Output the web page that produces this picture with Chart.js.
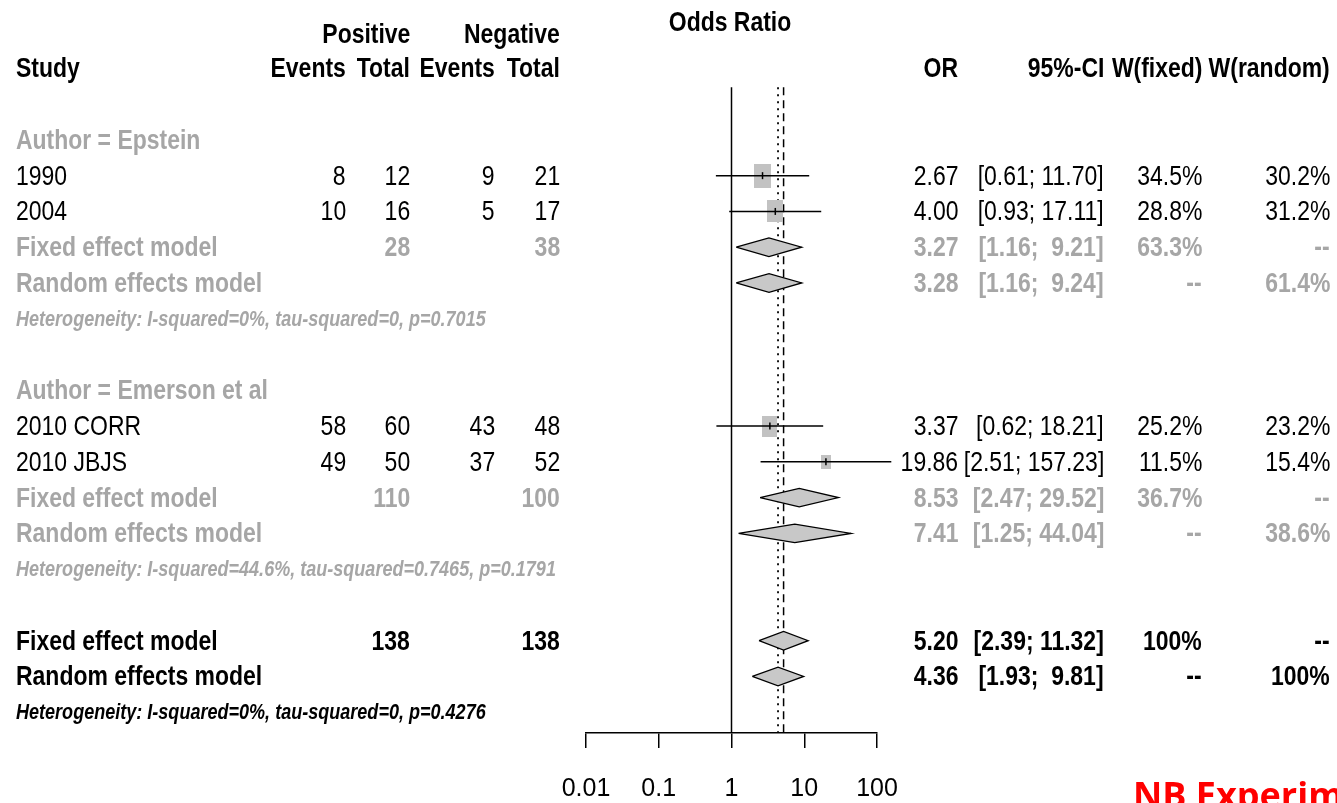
<!DOCTYPE html>
<html>
<head>
<meta charset="utf-8">
<script src="https://cdn.jsdelivr.net/npm/chart.js@4/dist/chart.umd.min.js"></script>
<style>
    html, body { margin: 0; padding: 0; background: #fff; }
    #wrap { position: relative; width: 1337px; height: 803px; overflow: hidden; background: #fff; }
    #forest { position: absolute; left: 0; top: 0; }
    #overlay { position: absolute; left: 0; top: 0; width: 1337px; height: 803px; pointer-events: none; }
    .cell { position: absolute; white-space: pre; color: #000; }
    .note { position: absolute; left: 1133px; top: 777px; font-family: "Open Sans", sans-serif;
            font-weight: 700; font-size: 36px; line-height: 36px; color: #ff0000; white-space: pre; }
</style>
</head>
<body>
<div id="wrap">
    <canvas id="forest" width="1337" height="803"></canvas>
    <div id="overlay"></div>
    <div class="note">NB Experimental</div>
</div>
<script>
/**
 * Forest plot - odds ratios, subgroups by author
 */

// Etudes individuelles
const STUDY_LABELS = ['1990', '2004', '2010 CORR', '2010 JBJS'];
const STUDY_GROUP = [0, 0, 1, 1];
const POS_EVENTS = [8, 10, 58, 49];
const POS_TOTAL = [12, 16, 60, 50];
const NEG_EVENTS = [9, 5, 43, 37];
const NEG_TOTAL = [21, 17, 48, 52];
const STUDY_OR = [2.67, 4.00, 3.37, 19.86];
const STUDY_LOWER = [0.61, 0.93, 0.62, 2.51];
const STUDY_UPPER = [11.70, 17.11, 18.21, 157.23];
const STUDY_W_FIXED = [34.5, 28.8, 25.2, 11.5];
const STUDY_W_RANDOM = [30.2, 31.2, 23.2, 15.4];

// Sous-groupes
const GROUP_LABELS = ['Author = Epstein', 'Author = Emerson et al'];
const GROUP_POS_TOTAL = [28, 110];
const GROUP_NEG_TOTAL = [38, 100];
const GROUP_FIXED_OR = [3.27, 8.53];
const GROUP_FIXED_LOWER = [1.16, 2.47];
const GROUP_FIXED_UPPER = [9.21, 29.52];
const GROUP_FIXED_W = [63.3, 36.7];
const GROUP_RANDOM_OR = [3.28, 7.41];
const GROUP_RANDOM_LOWER = [1.16, 1.25];
const GROUP_RANDOM_UPPER = [9.24, 44.04];
const GROUP_RANDOM_W = [61.4, 38.6];
const GROUP_HET = [
    'Heterogeneity: I-squared=0%, tau-squared=0, p=0.7015',
    'Heterogeneity: I-squared=44.6%, tau-squared=0.7465, p=0.1791'
];

// Modeles globaux
const OVERALL_POS_TOTAL = 138;
const OVERALL_NEG_TOTAL = 138;
const OVERALL_FIXED = [5.20, 2.39, 11.32];
const OVERALL_RANDOM = [4.36, 1.93, 9.81];
const OVERALL_HET = 'Heterogeneity: I-squared=0%, tau-squared=0, p=0.4276';

// Axe
const TICK_VALUES = [0.01, 0.1, 1, 10, 100];
const AXIS_TITLE = 'Odds Ratio';

/**
 * Police etroite si disponible, sinon compression horizontale
 */
function hasFont(name) {
    const ctx = document.createElement('canvas').getContext('2d');
    ctx.font = '40px monospace';
    const a = ctx.measureText('Random effects model 0123').width;
    ctx.font = '40px "' + name + '", monospace';
    const b = ctx.measureText('Random effects model 0123').width;
    return a !== b;
}
const NARROW = hasFont('Liberation Sans Narrow');
const FONT = NARROW ? '"Liberation Sans Narrow"' : '"Liberation Sans", Arial, sans-serif';
const SQUEEZE = NARROW ? 1 : 0.82;

const GREY = '#a6a6a6';
const BOX = '#c2c2c2';
const TEXT_SIZE = 28;
const HET_SIZE = 22;
const TICK_SIZE = NARROW ? 28 : 25;

const COL = {
    study: 16, posEv: 346, posTot: 410, negEv: 495, negTot: 560,
    or: 958, ci: 1104, wf: 1202, wr: 1330
};

// Numeros de ligne
const ROWS = { title: -1.3, top: -0.95, head: 0 };

function fmt2(v) { return v.toFixed(2); }
function ciText(lo, hi) { return '[' + fmt2(lo) + '; ' + fmt2(hi).padStart(5) + ']'; }
function pct(v) { return (v === 100 ? '100' : v.toFixed(1)) + '%'; }

/**
 * Construction de la liste des lignes du tableau
 */
const studyRows = [];
const fixedRows = [];
const randomRows = [];
const table = [];
let r = 2;
GROUP_LABELS.forEach(function (label, g) {
    table.push({ row: r++, kind: 'group', g: g });
    STUDY_LABELS.forEach(function (s, i) {
        if (STUDY_GROUP[i] !== g) return;
        studyRows[i] = r;
        table.push({ row: r++, kind: 'study', i: i });
    });
    fixedRows.push(r);
    table.push({ row: r++, kind: 'gfixed', g: g });
    randomRows.push(r);
    table.push({ row: r++, kind: 'grandom', g: g });
    table.push({ row: r++, kind: 'ghet', g: g });
    r++;
});
const overallFixedRow = r++;
const overallRandomRow = r++;
const overallHetRow = r++;

/**
 * Jeux de donnees Chart.js
 */
const DIAMOND_HALF = 0.26;
const REF_TOP = 0.53;
const Y_MIN = -1.743;
const Y_MAX = 18.58;

function boxImage(w) {
    const f = Math.sqrt(w / STUDY_W_FIXED[0]);
    const c = document.createElement('canvas');
    c.width = Math.max(2, Math.round(17 * f));
    c.height = Math.max(2, Math.round(24 * f));
    const g = c.getContext('2d');
    g.fillStyle = BOX;
    g.fillRect(0, 0, c.width, c.height);
    return c;
}

function diamond(est, lo, hi, row) {
    return {
        type: 'scatter',
        data: [
            { x: lo, y: row }, { x: est, y: row - DIAMOND_HALF },
            { x: hi, y: row }, { x: est, y: row + DIAMOND_HALF }, { x: lo, y: row }
        ],
        showLine: true,
        fill: 'shape',
        backgroundColor: '#c8c8c8',
        borderColor: '#000',
        borderWidth: 1.3,
        pointRadius: 0,
        tension: 0,
        clip: false,
        order: 3
    };
}

function refLine(x, dash, width) {
    return {
        type: 'scatter',
        data: [{ x: x, y: REF_TOP }, { x: x, y: Y_MAX }],
        showLine: true,
        borderColor: '#000',
        borderWidth: width,
        borderDash: dash,
        pointRadius: 0,
        clip: false,
        order: 6
    };
}

const datasets = [];
datasets.push(refLine(1, [], 1.5));
datasets.push(refLine(OVERALL_FIXED[0], [8, 5], 1.5));
datasets.push(refLine(OVERALL_RANDOM[0], [2, 5], 1.8));

// Carres ponderes
datasets.push({
    type: 'scatter',
    data: STUDY_OR.map(function (v, i) { return { x: v, y: studyRows[i] }; }),
    pointStyle: STUDY_W_FIXED.map(boxImage),
    pointRadius: 5,
    clip: false,
    order: 5
});

// Intervalles de confiance
STUDY_OR.forEach(function (v, i) {
    datasets.push({
        type: 'scatter',
        data: [{ x: STUDY_LOWER[i], y: studyRows[i] }, { x: STUDY_UPPER[i], y: studyRows[i] }],
        showLine: true,
        borderColor: '#000',
        borderWidth: 1.5,
        pointRadius: 0,
        clip: false,
        order: 2
    });
});

// Petit trait a l'estimation
datasets.push({
    type: 'scatter',
    data: STUDY_OR.map(function (v, i) { return { x: v, y: studyRows[i] }; }),
    pointStyle: 'line',
    rotation: 90,
    pointRadius: 3.5,
    borderColor: '#000',
    borderWidth: 1.5,
    clip: false,
    order: 1
});

// Losanges
GROUP_LABELS.forEach(function (label, g) {
    datasets.push(diamond(GROUP_FIXED_OR[g], GROUP_FIXED_LOWER[g], GROUP_FIXED_UPPER[g], fixedRows[g]));
    datasets.push(diamond(GROUP_RANDOM_OR[g], GROUP_RANDOM_LOWER[g], GROUP_RANDOM_UPPER[g], randomRows[g]));
});
datasets.push(diamond(OVERALL_FIXED[0], OVERALL_FIXED[1], OVERALL_FIXED[2], overallFixedRow));
datasets.push(diamond(OVERALL_RANDOM[0], OVERALL_RANDOM[1], OVERALL_RANDOM[2], overallRandomRow));

Chart.defaults.font.family = FONT;
Chart.defaults.color = '#000';

const chart = new Chart(document.getElementById('forest'), {
    type: 'scatter',
    data: { datasets: datasets },
    options: {
        responsive: false,
        animation: false,
        events: [],
        layout: { padding: { left: 586, right: 460, top: 0, bottom: 0 } },
        plugins: {
            legend: { display: false },
            tooltip: { enabled: false }
        },
        scales: {
            x: {
                type: 'logarithmic',
                position: 'bottom',
                min: TICK_VALUES[0],
                max: TICK_VALUES[TICK_VALUES.length - 1],
                afterBuildTicks: function (scale) {
                    scale.ticks = TICK_VALUES.map(function (v) { return { value: v }; });
                },
                afterFit: function (scale) { scale.height = 70; },
                grid: {
                    display: true,
                    drawOnChartArea: false,
                    drawTicks: true,
                    tickLength: 15,
                    color: '#000',
                    lineWidth: 1.5
                },
                border: { display: true, color: '#000', width: 1.5 },
                ticks: {
                    autoSkip: false,
                    maxRotation: 0,
                    padding: 26,
                    color: '#000',
                    font: { size: TICK_SIZE },
                    callback: function (v) { return String(v); }
                }
            },
            y: {
                type: 'linear',
                reverse: true,
                min: Y_MIN,
                max: Y_MAX,
                display: false
            }
        }
    }
});

/**
 * Texte du tableau en HTML, place d'apres l'echelle y du graphique
 */
const overlay = document.getElementById('overlay');
const yScale = chart.scales.y;

function addText(str, row, x, align, opts) {
    opts = opts || {};
    const size = opts.size || TEXT_SIZE;
    const d = document.createElement('div');
    d.className = 'cell';
    d.textContent = str;
    d.style.fontFamily = FONT;
    d.style.fontSize = size + 'px';
    d.style.lineHeight = size + 'px';
    d.style.fontWeight = opts.bold ? '700' : '400';
    d.style.fontStyle = opts.italic ? 'italic' : 'normal';
    d.style.color = opts.color || '#000';
    d.style.top = (yScale.getPixelForValue(row) - size / 2) + 'px';
    if (align === 'left') {
        d.style.left = x + 'px';
        d.style.transformOrigin = 'left center';
        d.style.transform = 'scaleX(' + SQUEEZE + ')';
    } else if (align === 'right') {
        d.style.right = (1337 - x) + 'px';
        d.style.transformOrigin = 'right center';
        d.style.transform = 'scaleX(' + SQUEEZE + ')';
    } else {
        d.style.left = x + 'px';
        d.style.transform = 'translateX(-50%) scaleX(' + SQUEEZE + ')';
    }
    overlay.appendChild(d);
}

const xScale = chart.scales.x;
const B = { bold: true };
addText(AXIS_TITLE, ROWS.title, xScale.getPixelForValue(1) - 2, 'center', B);
addText('Positive', ROWS.top, COL.posTot, 'right', B);
addText('Negative', ROWS.top, COL.negTot, 'right', B);
addText('Study', ROWS.head, COL.study, 'left', B);
addText('Events', ROWS.head, COL.posEv, 'right', B);
addText('Total', ROWS.head, COL.posTot, 'right', B);
addText('Events', ROWS.head, COL.negEv, 'right', B);
addText('Total', ROWS.head, COL.negTot, 'right', B);
addText('OR', ROWS.head, COL.or, 'right', B);
addText('95%-CI', ROWS.head, COL.ci, 'right', B);
addText('W(fixed)', ROWS.head, COL.wf, 'right', B);
addText('W(random)', ROWS.head, COL.wr, 'right', B);

const G = { color: GREY, bold: true };
table.forEach(function (t) {
    if (t.kind === 'group') {
        addText(GROUP_LABELS[t.g], t.row, COL.study, 'left', G);
    } else if (t.kind === 'study') {
        const i = t.i;
        addText(STUDY_LABELS[i], t.row, COL.study, 'left');
        addText(String(POS_EVENTS[i]), t.row, COL.posEv, 'right');
        addText(String(POS_TOTAL[i]), t.row, COL.posTot, 'right');
        addText(String(NEG_EVENTS[i]), t.row, COL.negEv, 'right');
        addText(String(NEG_TOTAL[i]), t.row, COL.negTot, 'right');
        addText(fmt2(STUDY_OR[i]), t.row, COL.or, 'right');
        addText(ciText(STUDY_LOWER[i], STUDY_UPPER[i]), t.row, COL.ci, 'right');
        addText(pct(STUDY_W_FIXED[i]), t.row, COL.wf, 'right');
        addText(pct(STUDY_W_RANDOM[i]), t.row, COL.wr, 'right');
    } else if (t.kind === 'gfixed') {
        const g = t.g;
        addText('Fixed effect model', t.row, COL.study, 'left', G);
        addText(String(GROUP_POS_TOTAL[g]), t.row, COL.posTot, 'right', G);
        addText(String(GROUP_NEG_TOTAL[g]), t.row, COL.negTot, 'right', G);
        addText(fmt2(GROUP_FIXED_OR[g]), t.row, COL.or, 'right', G);
        addText(ciText(GROUP_FIXED_LOWER[g], GROUP_FIXED_UPPER[g]), t.row, COL.ci, 'right', G);
        addText(pct(GROUP_FIXED_W[g]), t.row, COL.wf, 'right', G);
        addText('--', t.row, COL.wr, 'right', G);
    } else if (t.kind === 'grandom') {
        const g = t.g;
        addText('Random effects model', t.row, COL.study, 'left', G);
        addText(fmt2(GROUP_RANDOM_OR[g]), t.row, COL.or, 'right', G);
        addText(ciText(GROUP_RANDOM_LOWER[g], GROUP_RANDOM_UPPER[g]), t.row, COL.ci, 'right', G);
        addText('--', t.row, COL.wf, 'right', G);
        addText(pct(GROUP_RANDOM_W[g]), t.row, COL.wr, 'right', G);
    } else if (t.kind === 'ghet') {
        addText(GROUP_HET[t.g], t.row, COL.study, 'left',
            { color: GREY, bold: true, italic: true, size: HET_SIZE });
    }
});

addText('Fixed effect model', overallFixedRow, COL.study, 'left', B);
addText(String(OVERALL_POS_TOTAL), overallFixedRow, COL.posTot, 'right', B);
addText(String(OVERALL_NEG_TOTAL), overallFixedRow, COL.negTot, 'right', B);
addText(fmt2(OVERALL_FIXED[0]), overallFixedRow, COL.or, 'right', B);
addText(ciText(OVERALL_FIXED[1], OVERALL_FIXED[2]), overallFixedRow, COL.ci, 'right', B);
addText(pct(100), overallFixedRow, COL.wf, 'right', B);
addText('--', overallFixedRow, COL.wr, 'right', B);
addText('Random effects model', overallRandomRow, COL.study, 'left', B);
addText(fmt2(OVERALL_RANDOM[0]), overallRandomRow, COL.or, 'right', B);
addText(ciText(OVERALL_RANDOM[1], OVERALL_RANDOM[2]), overallRandomRow, COL.ci, 'right', B);
addText('--', overallRandomRow, COL.wf, 'right', B);
addText(pct(100), overallRandomRow, COL.wr, 'right', B);
addText(OVERALL_HET, overallHetRow, COL.study, 'left', { bold: true, italic: true, size: HET_SIZE });
</script>
</body>
</html>
